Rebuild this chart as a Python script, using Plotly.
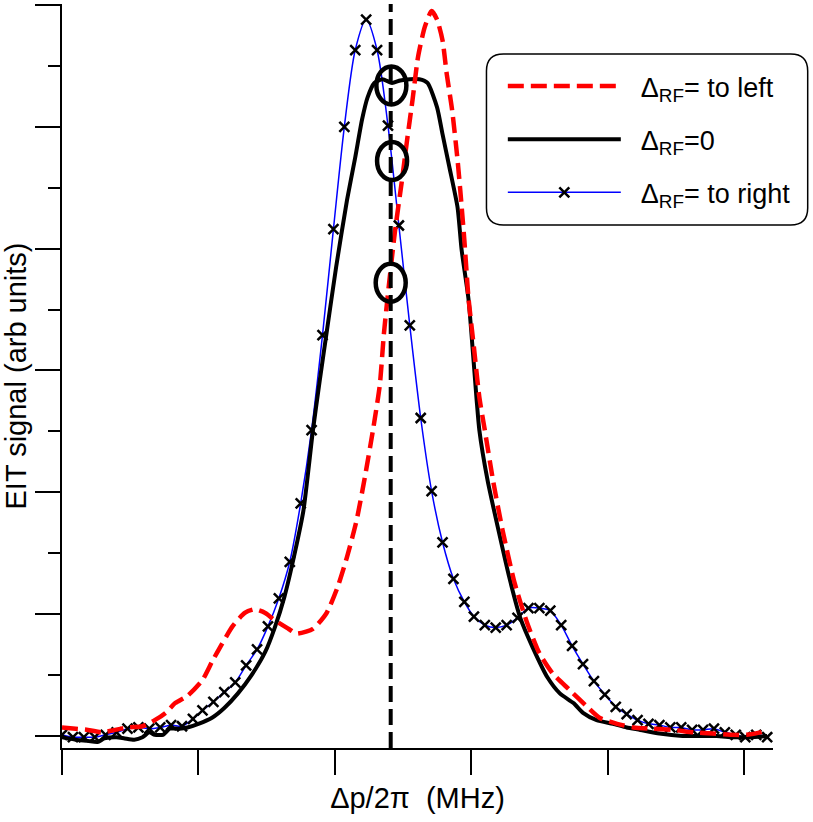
import plotly.graph_objects as go

# Δ_RF = to right：等间隔采样点（带 × 标记）
right_x = [0.00, 0.08, 0.16, 0.24, 0.32, 0.40, 0.48, 0.56, 0.64, 0.72,
           0.80, 0.88, 0.96, 1.03, 1.11, 1.19, 1.27, 1.35, 1.43, 1.51,
           1.59, 1.67, 1.75, 1.83, 1.91, 1.99, 2.07, 2.15, 2.23, 2.31,
           2.39, 2.47, 2.55, 2.63, 2.71, 2.79, 2.87, 2.95, 3.02, 3.10,
           3.18, 3.26, 3.34, 3.42, 3.50, 3.58, 3.66, 3.74, 3.82, 3.90,
           3.98, 4.06, 4.14, 4.22, 4.30, 4.38, 4.46, 4.54, 4.62, 4.70,
           4.78, 4.86, 4.94, 5.01, 5.09, 5.17]
right_y = [0.01, -0.01, -0.01, -0.01, 0.01, 0.03, 0.06, 0.07, 0.06, 0.07,
           0.09, 0.08, 0.14, 0.21, 0.28, 0.36, 0.44, 0.58, 0.71, 0.90,
           1.13, 1.43, 1.91, 2.51, 3.29, 4.16, 5.00, 5.63, 5.88, 5.63,
           5.01, 4.19, 3.37, 2.61, 2.01, 1.59, 1.29, 1.10, 0.98, 0.91,
           0.89, 0.91, 0.97, 1.05, 1.05, 1.03, 0.91, 0.74, 0.59, 0.45,
           0.34, 0.24, 0.18, 0.13, 0.10, 0.09, 0.07, 0.07, 0.05, 0.05,
           0.06, 0.03, 0.01, -0.01, 0.01, -0.01]

# Δ_RF = 0
zero_x = [0.00, 0.10, 0.19, 0.26, 0.31, 0.40, 0.46, 0.53, 0.59, 0.64,
          0.68, 0.74, 0.79, 0.86, 0.92, 1.00, 1.10, 1.19, 1.29, 1.39,
          1.49, 1.56, 1.63, 1.71, 1.77, 1.84, 1.89, 1.94, 2.01, 2.09,
          2.15, 2.20, 2.24, 2.29, 2.35, 2.42, 2.48, 2.55, 2.62, 2.68,
          2.75, 2.79, 2.84, 2.90, 2.93, 2.98, 3.01, 3.04, 3.06, 3.12,
          3.20, 3.28, 3.36, 3.45, 3.56, 3.65, 3.75, 3.82, 3.92, 4.04,
          4.14, 4.24, 4.38, 4.55, 4.80, 4.92, 5.04, 5.17]
zero_y = [-0.01, -0.03, -0.04, -0.05, -0.02, -0.01, -0.02, -0.03, -0.01, 0.03,
          0.01, 0.01, 0.06, 0.06, 0.07, 0.10, 0.15, 0.23, 0.35, 0.50,
          0.69, 0.89, 1.14, 1.52, 1.85, 2.51, 2.92, 3.31, 3.85, 4.40,
          4.75, 5.06, 5.24, 5.36, 5.39, 5.36, 5.38, 5.39, 5.39, 5.36,
          5.16, 4.94, 4.67, 4.34, 3.99, 3.59, 3.19, 2.76, 2.51, 2.10,
          1.69, 1.30, 0.97, 0.73, 0.48, 0.35, 0.27, 0.19, 0.13, 0.10,
          0.07, 0.05, 0.02, 0.00, 0.00, -0.01, -0.01, 0.00]

# Δ_RF = to left
left_x = [0.00, 0.10, 0.19, 0.29, 0.39, 0.48, 0.59, 0.68, 0.76, 0.83,
          0.92, 1.03, 1.10, 1.17, 1.25, 1.34, 1.41, 1.49, 1.56, 1.66,
          1.72, 1.84, 1.94, 2.02, 2.09, 2.16, 2.22, 2.28, 2.33, 2.36,
          2.39, 2.44, 2.49, 2.53, 2.57, 2.61, 2.66, 2.71, 2.75, 2.79,
          2.82, 2.86, 2.90, 2.92, 2.95, 2.98, 3.02, 3.06, 3.10, 3.16,
          3.23, 3.32, 3.41, 3.50, 3.60, 3.72, 3.85, 3.94, 4.07, 4.19,
          4.33, 4.48, 4.63, 4.77, 4.90, 5.02, 5.12, 5.17]
left_y = [0.07, 0.06, 0.05, 0.03, 0.05, 0.07, 0.08, 0.13, 0.19, 0.27,
          0.33, 0.46, 0.61, 0.75, 0.90, 1.01, 1.04, 1.01, 0.95, 0.88,
          0.84, 0.88, 1.01, 1.22, 1.47, 1.77, 2.12, 2.51, 2.88, 3.30,
          3.63, 4.13, 4.54, 4.89, 5.22, 5.57, 5.82, 5.95, 5.88, 5.71,
          5.44, 5.14, 4.73, 4.48, 4.07, 3.60, 3.19, 2.78, 2.51, 2.10,
          1.69, 1.25, 0.93, 0.68, 0.51, 0.38, 0.24, 0.15, 0.10, 0.07,
          0.06, 0.05, 0.03, 0.02, 0.01, 0.01, 0.03, 0.05]

# 参考线和圆圈标记
probe_x = 2.41
circle_x = [2.415, 2.42, 2.41]
circle_y = [5.34, 4.72, 3.72]

FONT = "Liberation Sans, Arial, sans-serif"
PAD = "\u00a0\u00a0"  # 图例文字和线样之间留点空

fig = go.Figure()

fig.add_trace(go.Scatter(
    x=right_x, y=right_y,
    mode='lines+markers',
    name=PAD + 'Δ<sub>RF</sub>= to right',
    legendgroup='c', legendrank=3,
    line=dict(color='#0000ff', width=1.5, shape='spline', smoothing=0.8),
    marker=dict(symbol='x-thin', size=10, color='black',
                line=dict(color='black', width=2.5)),
))

fig.add_trace(go.Scatter(
    x=zero_x, y=zero_y,
    mode='lines',
    name=PAD + 'Δ<sub>RF</sub>=0',
    legendgroup='b', legendrank=2,
    line=dict(color='black', width=4, shape='spline', smoothing=0.6),
))

fig.add_trace(go.Scatter(
    x=left_x, y=left_y,
    mode='lines',
    name=PAD + 'Δ<sub>RF</sub>= to left',
    legendgroup='a', legendrank=1,
    line=dict(color='#ff0000', width=4.5, dash='16px,7px',
              shape='spline', smoothing=0.6),
))

shapes = [dict(
    type='line', xref='x', yref='y domain',
    x0=probe_x, x1=probe_x, y0=0, y1=1,
    line=dict(color='black', width=4, dash='16px,7px'),
)]

# 椭圆圈
for cx, cy in zip(circle_x, circle_y):
    shapes.append(dict(
        type='circle', xref='x', yref='y',
        x0=cx - 0.11, x1=cx + 0.11, y0=cy - 0.156, y1=cy + 0.156,
        line=dict(color='black', width=4.5),
    ))

# 圆角图例框
x0, x1, y0, y1 = 0.597, 1.0488, 0.703, 0.9328
rx, ry = 0.0239, 0.0228
box = (f"M{x0+rx},{y1} L{x1-rx},{y1} Q{x1},{y1} {x1},{y1-ry} "
       f"L{x1},{y0+ry} Q{x1},{y0} {x1-rx},{y0} L{x0+rx},{y0} "
       f"Q{x0},{y0} {x0},{y0+ry} L{x0},{y1-ry} Q{x0},{y1} {x0+rx},{y1} Z")
shapes.append(dict(type='path', xref='paper', yref='paper', path=box,
                   line=dict(color='black', width=1.5), fillcolor='white',
                   layer='below'))

fig.update_layout(
    width=813, height=822,
    margin=dict(l=62, r=40, t=4, b=74),
    paper_bgcolor='white',
    plot_bgcolor='white',
    font=dict(family=FONT, color='black'),
    shapes=shapes,
    showlegend=True,
    legend=dict(
        x=0.62, y=0.922, xanchor='left', yanchor='top',
        bgcolor='rgba(0,0,0,0)',
        font=dict(size=27, family=FONT),
        traceorder='grouped',
        tracegroupgap=15,
        itemwidth=113,
    ),
)

fig.update_xaxes(
    range=[0, 5.213],
    showgrid=False, zeroline=False,
    showline=True, linecolor='black', linewidth=2,
    ticks='outside', ticklen=25, tickwidth=2, tickcolor='black',
    tickmode='linear', tick0=0, dtick=1,
    showticklabels=False,
    title=dict(text='Δp/2π  (MHz)', font=dict(size=29, family=FONT), standoff=14),
)

fig.update_yaxes(
    range=[-0.0985, 6.008],
    showgrid=False, zeroline=False,
    showline=True, linecolor='black', linewidth=2,
    ticks='outside', ticklen=25, tickwidth=2, tickcolor='black',
    tickmode='linear', tick0=0, dtick=1,
    minor=dict(ticks='outside', ticklen=12, tickwidth=2, tickcolor='black',
               dtick=0.5, tick0=0),
    showticklabels=False,
    title=dict(text='EIT signal (arb units)', font=dict(size=29, family=FONT), standoff=10),
)

# 去掉页面默认边距，让图贴齐窗口左上角
fig.write_html("out.html", config={'displayModeBar': False},
               post_script="document.body.style.margin='0';")
